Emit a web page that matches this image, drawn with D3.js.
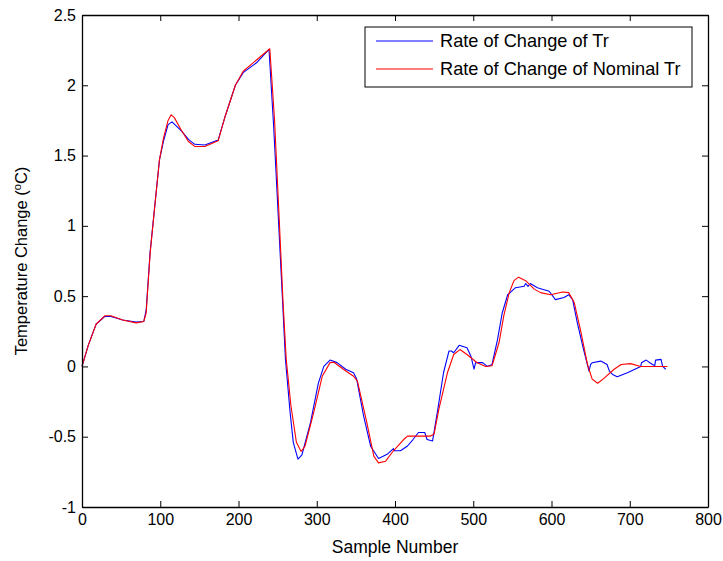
<!DOCTYPE html>
<html>
<head>
<meta charset="utf-8">
<script src="https://cdn.jsdelivr.net/npm/d3@7"></script>
<style>
  html, body { margin: 0; padding: 0; background: #fff; }
  svg text { font-family: "Liberation Sans", Arial, Helvetica, sans-serif; fill: #000; }
</style>
</head>
<body>
<svg id="chart" width="723" height="561"></svg>
<script>
// Sample numbers and rate-of-change values for the measured Tr
const trSamples = [0, 8, 18, 29, 37, 52, 69, 79, 82, 87, 93, 99, 104, 110, 115, 127, 136, 144, 157, 174,
  183, 196, 206, 223, 239, 245, 251, 256, 260, 266, 270, 276, 281, 292, 302, 309, 317, 326, 337, 347,
  351, 360, 369, 379, 390, 398, 399, 407, 416, 423, 430, 438, 441, 448, 454, 462, 469, 472, 475, 482,
  492, 497, 501, 503, 512, 518, 524, 531, 537, 544, 554, 565, 567, 570, 573, 582, 597, 605, 616, 622,
  627, 633, 641, 648, 650, 652, 663, 671, 674, 678, 684, 697, 714, 715, 721, 729, 732, 733, 740, 742, 746];
const trValues = [0.0, 0.15, 0.30, 0.355, 0.355, 0.33, 0.315, 0.32, 0.40, 0.81, 1.14, 1.47, 1.60, 1.72, 1.74, 1.675, 1.615, 1.58, 1.575, 1.61,
  1.78, 2.00, 2.09, 2.16, 2.255, 1.70, 1.05, 0.50, 0.05, -0.33, -0.54, -0.66, -0.63, -0.40, -0.12, 0.0, 0.045, 0.027, -0.02, -0.045,
  -0.09, -0.355, -0.57, -0.655, -0.625, -0.585, -0.60, -0.60, -0.566, -0.52, -0.47, -0.47, -0.52, -0.53, -0.33, -0.045, 0.11, 0.11, 0.097, 0.15,
  0.133, 0.073, -0.02, 0.027, 0.027, 0.0, 0.014, 0.19, 0.38, 0.51, 0.56, 0.57, 0.59, 0.57, 0.59, 0.56, 0.535, 0.475, 0.49, 0.51,
  0.475, 0.31, 0.12, -0.033, 0.014, 0.026, 0.038, 0.014, -0.033, -0.057, -0.073, -0.045, 0.0, 0.026, 0.045, 0.014, 0.007, 0.045, 0.05, 0.0, -0.02];

// Sample numbers and rate-of-change values for the nominal Tr
const nominalSamples = [0, 8, 18, 29, 37, 52, 69, 79, 82, 87, 93, 99, 104, 110, 114, 118, 127, 136, 144, 157,
  174, 183, 196, 206, 223, 240, 246, 252, 257, 261, 267, 274, 280, 285, 296, 307, 317, 322, 334, 347,
  352, 364, 373, 379, 388, 398, 411, 416, 445, 450, 456, 467, 475, 483, 492, 505, 516, 524, 533, 539,
  546, 552, 558, 567, 578, 586, 599, 614, 622, 629, 637, 646, 652, 659, 667, 680, 689, 701, 714, 748];
const nominalValues = [0.0, 0.15, 0.30, 0.36, 0.36, 0.33, 0.31, 0.32, 0.38, 0.80, 1.14, 1.47, 1.62, 1.75, 1.79, 1.77, 1.68, 1.60, 1.565, 1.565,
  1.605, 1.78, 2.00, 2.10, 2.18, 2.26, 1.76, 1.05, 0.45, 0.05, -0.28, -0.54, -0.605, -0.567, -0.33, -0.07, 0.027, 0.03, -0.02, -0.07,
  -0.105, -0.40, -0.64, -0.686, -0.674, -0.60, -0.52, -0.496, -0.496, -0.48, -0.305, -0.045, 0.085, 0.12, 0.085, 0.026, 0.0, 0.005, 0.17, 0.36,
  0.525, 0.61, 0.635, 0.61, 0.55, 0.525, 0.51, 0.53, 0.525, 0.455, 0.26, 0.014, -0.09, -0.12, -0.085, -0.02, 0.014, 0.02, 0.0, 0.0];

// Axis ticks and their labels
const xTicks = [0, 100, 200, 300, 400, 500, 600, 700, 800];
const xTickLabels = ["0", "100", "200", "300", "400", "500", "600", "700", "800"];
const yTicks = [-1, -0.5, 0, 0.5, 1, 1.5, 2, 2.5];
const yTickLabels = ["-1", "-0.5", "0", "0.5", "1", "1.5", "2", "2.5"];

const seriesNames = ["Rate of Change of Tr", "Rate of Change of Nominal Tr"];
const seriesColors = ["#0000ff", "#ff0000"];

const svg = d3.select("#chart");
const plot = { left: 82, right: 708, top: 15, bottom: 507 };

const x = d3.scaleLinear().domain([0, 800]).range([plot.left, plot.right]);
const y = d3.scaleLinear().domain([-1, 2.5]).range([plot.bottom, plot.top]);

// Data lines
const line = d3.line().x(d => x(d[0])).y(d => y(d[1]));
const series = [
  d3.zip(trSamples, trValues),
  d3.zip(nominalSamples, nominalValues)
];
svg.append("g").selectAll("path")
  .data(series)
  .join("path")
  .attr("d", line)
  .attr("fill", "none")
  .attr("stroke", (d, i) => seriesColors[i])
  .attr("stroke-width", 1.1)
  .attr("stroke-linejoin", "round");

// Boxed axes with inward ticks
function styleAxis(g) {
  g.select(".domain").attr("stroke", "#000").attr("stroke-width", 1.3);
  g.selectAll(".tick line").attr("stroke", "#000").attr("stroke-width", 1);
  g.selectAll("text").attr("font-size", 16).attr("font-family", null);
}

svg.append("g")
  .attr("transform", `translate(0,${plot.bottom})`)
  .call(d3.axisBottom(x).tickValues(xTicks)
    .tickFormat((d, i) => xTickLabels[i]).tickSizeInner(-6).tickSizeOuter(0).tickPadding(7))
  .call(styleAxis);

svg.append("g")
  .attr("transform", `translate(0,${plot.top})`)
  .call(d3.axisTop(x).tickValues(xTicks).tickFormat("").tickSizeInner(-6).tickSizeOuter(0))
  .call(styleAxis);

svg.append("g")
  .attr("transform", `translate(${plot.left},0)`)
  .call(d3.axisLeft(y).tickValues(yTicks)
    .tickFormat((d, i) => yTickLabels[i]).tickSizeInner(-6).tickSizeOuter(0).tickPadding(6))
  .call(styleAxis);

svg.append("g")
  .attr("transform", `translate(${plot.right},0)`)
  .call(d3.axisRight(y).tickValues(yTicks).tickFormat("").tickSizeInner(-6).tickSizeOuter(0))
  .call(styleAxis);

// Axis titles
svg.append("text")
  .attr("x", (plot.left + plot.right) / 2)
  .attr("y", 553)
  .attr("text-anchor", "middle")
  .attr("font-size", 17.5)
  .text("Sample Number");

const yTitle = svg.append("text")
  .attr("transform", `translate(27,${(plot.top + plot.bottom) / 2}) rotate(-90)`)
  .attr("text-anchor", "middle")
  .attr("font-size", 16.5);
yTitle.append("tspan").text("Temperature Change (");
yTitle.append("tspan").attr("font-size", 11).attr("dy", -6).text("o");
yTitle.append("tspan").attr("dy", 6).text("C)");

// Legend
const legend = svg.append("g").attr("transform", "translate(365,27)");
legend.append("rect")
  .attr("width", 327).attr("height", 60)
  .attr("fill", "#fff").attr("stroke", "#000").attr("stroke-width", 1);
const rows = legend.selectAll("g.row")
  .data(seriesNames)
  .join("g")
  .attr("class", "row")
  .attr("transform", (d, i) => `translate(0,${14 + i * 28})`);
rows.append("line")
  .attr("x1", 11).attr("x2", 68)
  .attr("stroke", (d, i) => seriesColors[i])
  .attr("stroke-width", 1.1);
rows.append("text")
  .attr("x", 75).attr("dy", "0.35em")
  .attr("font-size", 18.2)
  .text(d => d);
</script>
</body>
</html>
